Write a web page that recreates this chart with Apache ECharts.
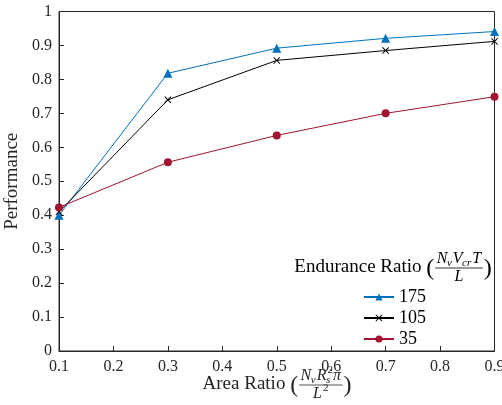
<!DOCTYPE html>
<html>
<head>
<meta charset="utf-8">
<script src="https://cdn.jsdelivr.net/npm/echarts@6/dist/echarts.min.js"></script>
<style>
  html, body { margin: 0; padding: 0; background: #fff; }
  #chart { width: 502px; height: 405px; }
</style>
</head>
<body>
<div id="chart"></div>
<script>
// Performance vs. area ratio for three endurance ratios
const areaRatio = [0.1, 0.3, 0.5, 0.7, 0.9];
const seriesNames = ['175', '105', '35'];
const perf175 = [0.400, 0.818, 0.892, 0.921, 0.941];
const perf105 = [0.410, 0.740, 0.856, 0.885, 0.912];
const perf35  = [0.423, 0.556, 0.635, 0.700, 0.749];

const SERIF = '"Liberation Serif", "Times New Roman", serif';
const INK = '#262626';
const BLUE = '#0072BD';
const RED = '#A2142F';

// --- small helper for typeset labels with a stacked fraction ---
const mctx = document.createElement('canvas').getContext('2d');
function fontOf(size, italic) {
  return (italic ? 'italic ' : '') + size + 'px ' + SERIF;
}
function textWidth(s, size, italic) {
  mctx.font = fontOf(size, italic);
  return mctx.measureText(s).width;
}
function isLetter(s) { return /[A-Za-z\u03c0]/.test(s); }
function txt(s, x, midY, size, italic, color) {
  return {
    type: 'text', silent: true,
    style: {
      text: s, x: x, y: midY, font: fontOf(size, italic), fill: color,
      align: 'left', verticalAlign: 'middle',
      textAlign: 'left', textVerticalAlign: 'middle'
    }
  };
}
// baseline -> middle of the em box
function mid(baseline, size) { return baseline - 0.3 * size; }

const SCRIPT = 0.66;
// pieces: [base, sub, sup]
function rowWidth(pieces, size) {
  const ss = Math.round(size * SCRIPT);
  let w = 0;
  pieces.forEach(p => {
    w += textWidth(p[0], size, isLetter(p[0]));
    const ws = p[1] ? textWidth(p[1], ss, isLetter(p[1])) + 0.5 : 0;
    const wp = p[2] ? textWidth(p[2], ss, isLetter(p[2])) + 1 : 0;
    w += Math.max(ws, wp);
  });
  return w;
}
function drawRow(pieces, x0, baseline, size, color, out) {
  const ss = Math.round(size * SCRIPT);
  let x = x0;
  pieces.forEach(p => {
    out.push(txt(p[0], x, mid(baseline, size), size, isLetter(p[0]), color));
    x += textWidth(p[0], size, isLetter(p[0]));
    let ws = 0, wp = 0;
    if (p[1]) {
      out.push(txt(p[1], x - 0.5, mid(baseline + 0.2 * size, ss), ss, isLetter(p[1]), color));
      ws = textWidth(p[1], ss, isLetter(p[1])) + 0.5;
    }
    if (p[2]) {
      out.push(txt(p[2], x + 1, mid(baseline - 0.45 * size, ss), ss, isLetter(p[2]), color));
      wp = textWidth(p[2], ss, isLetter(p[2])) + 1;
    }
    x += Math.max(ws, wp);
  });
}
// "prefix ( num / den )" centred on cx, fraction bar at barY
function mathLabel(prefix, num, den, cx, barY, color) {
  const S = 19, P = 24, F = 16;
  const out = [];
  const wPre = textWidth(prefix + ' ', S, false);
  const wParen = textWidth('(', P, false);
  const wn = rowWidth(num, F), wd = rowWidth(den, F);
  const wf = Math.max(wn, wd) + 3;
  const total = wPre + wParen + 1 + wf + 1 + wParen;
  let x = cx - total / 2;
  out.push(txt(prefix, x, mid(barY + 5, S), S, false, color));
  x += wPre;
  out.push(txt('(', x, barY + 1, P, false, color));
  x += wParen + 1;
  drawRow(num, x + (wf - wn) / 2, barY - 4.5, F, color, out);
  out.push({
    type: 'line', silent: true,
    shape: { x1: x, y1: barY, x2: x + wf, y2: barY },
    style: { stroke: color, lineWidth: 0.8 }
  });
  drawRow(den, x + (wf - wd) / 2, barY + 14, F, color, out);
  x += wf + 1;
  out.push(txt(')', x, barY + 1, P, false, color));
  return out;
}

const legendTitle = mathLabel('Endurance Ratio',
  [['N', 'v'], ['V', 'cr'], ['T']], [['L']], 393, 268, '#000');
const xTitle = mathLabel('Area Ratio',
  [['N', 'v'], ['R', 's', '2'], ['\u03c0']], [['L', null, '2']], 277, 385, INK);

function pairs(ys) { return areaRatio.map((x, i) => [x, ys[i]]); }
const fmt = v => String(Math.round(v * 10) / 10);

const crossPath = 'path://M0,1 L1,0 L5,4 L9,0 L10,1 L6,5 L10,9 L9,10 L5,6 L1,10 L0,9 L4,5 Z';

const chart = echarts.init(document.getElementById('chart'), null, { renderer: 'canvas' });
chart.setOption({
  animation: false,
  backgroundColor: '#fff',
  grid: {
    left: 59, right: 7.5, top: 11.5, bottom: 54,
    show: true, borderColor: INK, borderWidth: 1,
    containLabel: false, outerBoundsMode: 'none'
  },
  xAxis: {
    type: 'value', min: 0.1, max: 0.9, interval: 0.1,
    axisLine: { show: true, lineStyle: { color: INK, width: 1 } },
    axisTick: { show: true, inside: true, length: 5, lineStyle: { color: INK } },
    splitLine: { show: false },
    axisLabel: {
      formatter: fmt, margin: 8, color: INK,
      fontFamily: SERIF, fontSize: 16,
      showMinLabel: true, showMaxLabel: true, hideOverlap: false
    }
  },
  yAxis: {
    type: 'value', min: 0, max: 1, interval: 0.1,
    name: 'Performance', nameLocation: 'middle', nameGap: 24,
    nameTextStyle: { color: INK, fontFamily: SERIF, fontSize: 19 },
    axisLine: { show: true, lineStyle: { color: INK, width: 1 } },
    axisTick: { show: true, inside: true, length: 5, lineStyle: { color: INK } },
    splitLine: { show: false },
    axisLabel: {
      formatter: fmt, margin: 7, color: INK,
      fontFamily: SERIF, fontSize: 16
    }
  },
  legend: {
    data: seriesNames,
    orient: 'vertical', left: 363, top: 288, padding: 0,
    itemWidth: 30, itemHeight: 9, itemGap: 3,
    textStyle: { color: '#000', fontFamily: SERIF, fontSize: 18 },
    selectedMode: false
  },
  series: [
    {
      name: seriesNames[0], type: 'line', data: pairs(perf175),
      symbol: 'triangle', symbolSize: 9,
      lineStyle: { color: BLUE, width: 1 },
      itemStyle: { color: BLUE }
    },
    {
      name: seriesNames[1], type: 'line', data: pairs(perf105),
      symbol: crossPath, symbolSize: 7,
      lineStyle: { color: '#000', width: 1 },
      itemStyle: { color: '#000' }
    },
    {
      name: seriesNames[2], type: 'line', data: pairs(perf35),
      symbol: 'circle', symbolSize: 8,
      lineStyle: { color: RED, width: 1 },
      itemStyle: { color: RED }
    }
  ],
  graphic: { elements: legendTitle.concat(xTitle) }
});
</script>
</body>
</html>
